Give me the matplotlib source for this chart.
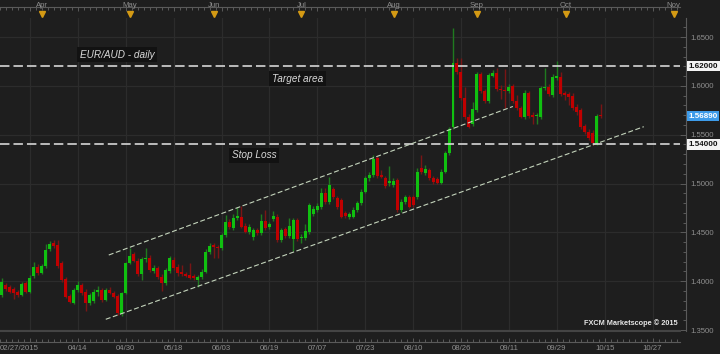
import matplotlib
matplotlib.use("Agg")
import matplotlib.pyplot as plt
from matplotlib.patches import Rectangle
from matplotlib.lines import Line2D
import numpy as np

plt.rcParams['lines.scale_dashes'] = False
plt.rcParams['font.family'] = ['Liberation Sans', 'DejaVu Sans']

# ---------------- data (EUR/AUD daily) ----------------
opens = [1.3858, 1.3961, 1.3943, 1.3917, 1.3892, 1.3858, 1.3978, 1.3892, 1.4053, 1.4148,
         1.4087, 1.4155, 1.4326, 1.4388, 1.4370, 1.4183, 1.4019, 1.3848, 1.3780, 1.3910,
         1.3961, 1.3892, 1.3780, 1.3797, 1.3886, 1.3910, 1.3807, 1.3910, 1.3876, 1.3848,
         1.3660, 1.3876, 1.4189, 1.4275, 1.4210, 1.4070, 1.4224, 1.4240, 1.4107, 1.4135,
         1.4046, 1.3978, 1.4104, 1.4217, 1.4148, 1.4091, 1.4070, 1.4063, 1.4056, 1.4009,
         1.4043, 1.4097, 1.4295, 1.4370, 1.4353, 1.4336, 1.4473, 1.4609, 1.4541, 1.4644,
         1.4660, 1.4568, 1.4507, 1.4455, 1.4524, 1.4490, 1.4616, 1.4555, 1.4636, 1.4660,
         1.4422, 1.4534, 1.4466, 1.4432, 1.4626, 1.4439, 1.4445, 1.4507, 1.4688, 1.4729,
         1.4763, 1.4906, 1.4808, 1.4941, 1.4848, 1.4831, 1.4695, 1.4660, 1.4660, 1.4729,
         1.4797, 1.4916, 1.5053, 1.5087, 1.5258, 1.5087, 1.5053, 1.5002, 1.4985, 1.5036,
         1.4729, 1.4814, 1.4859, 1.4859, 1.4859, 1.5156, 1.5111, 1.5138, 1.5053, 1.5043,
         1.5008, 1.5121, 1.5309, 1.5582, 1.6231, 1.6145, 1.5879, 1.5684, 1.5609, 1.5753,
         1.6121, 1.5947, 1.5845, 1.6104, 1.6135, 1.5968, 1.5957, 1.5947, 1.5998, 1.5845,
         1.5770, 1.5684, 1.5924, 1.5702, 1.5691, 1.5684, 1.5975, 1.5991, 1.5906, 1.6083,
         1.6094, 1.5924, 1.5917, 1.5896, 1.5787, 1.5753, 1.5589, 1.5530, 1.5520, 1.5418,
         1.5696]
highs = [1.4032, 1.3981, 1.3961, 1.3940, 1.3910, 1.3991, 1.4002, 1.4063, 1.4196, 1.4176,
         1.4176, 1.4381, 1.4411, 1.4422, 1.4422, 1.4206, 1.4043, 1.3868, 1.3930, 1.4002,
         1.3981, 1.3920, 1.3879, 1.3920, 1.3950, 1.3930, 1.3930, 1.3940, 1.3899, 1.3868,
         1.3890, 1.4200, 1.4343, 1.4299, 1.4237, 1.4247, 1.4343, 1.4268, 1.4166, 1.4155,
         1.4073, 1.4135, 1.4258, 1.4247, 1.4176, 1.4166, 1.4094, 1.4183, 1.4073, 1.4063,
         1.4125, 1.4329, 1.4391, 1.4391, 1.4370, 1.4493, 1.4678, 1.4636, 1.4685, 1.4762,
         1.4773, 1.4595, 1.4582, 1.4544, 1.4544, 1.4685, 1.4726, 1.4606, 1.4718, 1.4688,
         1.4544, 1.4555, 1.4644, 1.4647, 1.4647, 1.4483, 1.4582, 1.4800, 1.4770, 1.4800,
         1.4951, 1.4957, 1.5070, 1.4964, 1.4872, 1.4851, 1.4718, 1.4708, 1.4760, 1.4821,
         1.4944, 1.5077, 1.5118, 1.5292, 1.5282, 1.5138, 1.5077, 1.5179, 1.5056, 1.5056,
         1.4841, 1.4882, 1.4882, 1.4882, 1.5159, 1.5292, 1.5190, 1.5159, 1.5077, 1.5067,
         1.5149, 1.5333, 1.5579, 1.6589, 1.6282, 1.6282, 1.5991, 1.5712, 1.5831, 1.6142,
         1.6142, 1.5968, 1.6131, 1.6162, 1.6183, 1.6009, 1.6173, 1.6019, 1.6019, 1.5906,
         1.5794, 1.5958, 1.5947, 1.5732, 1.5722, 1.5998, 1.6186, 1.6019, 1.6121, 1.6254,
         1.6145, 1.5947, 1.5937, 1.5927, 1.5814, 1.5773, 1.5609, 1.5558, 1.5548, 1.5712,
         1.5814]
lows = [1.3838, 1.3899, 1.3879, 1.3814, 1.3838, 1.3848, 1.3879, 1.3879, 1.4032, 1.4063,
        1.4073, 1.4135, 1.4309, 1.4340, 1.4135, 1.3991, 1.3827, 1.3776, 1.3766, 1.3889,
        1.3858, 1.3697, 1.3756, 1.3776, 1.3848, 1.3787, 1.3797, 1.3868, 1.3827, 1.3654,
        1.3643, 1.3866, 1.4180, 1.4196, 1.4053, 1.4012, 1.4196, 1.4094, 1.4084, 1.4022,
        1.3902, 1.3961, 1.4084, 1.4114, 1.4053, 1.4053, 1.4043, 1.4022, 1.4012, 1.3943,
        1.4022, 1.4084, 1.4278, 1.4234, 1.4234, 1.4319, 1.4452, 1.4534, 1.4524, 1.4626,
        1.4544, 1.4493, 1.4480, 1.4421, 1.4473, 1.4473, 1.4524, 1.4534, 1.4616, 1.4401,
        1.4398, 1.4442, 1.4442, 1.4309, 1.4411, 1.4391, 1.4421, 1.4483, 1.4667, 1.4708,
        1.4739, 1.4790, 1.4790, 1.4841, 1.4739, 1.4647, 1.4647, 1.4636, 1.4647, 1.4708,
        1.4780, 1.4903, 1.5026, 1.5067, 1.5056, 1.5056, 1.4954, 1.4975, 1.4964, 1.4708,
        1.4708, 1.4790, 1.4749, 1.4759, 1.4841, 1.5097, 1.5087, 1.5036, 1.4995, 1.4995,
        1.4995, 1.5108, 1.5292, 1.5558, 1.6121, 1.5855, 1.5660, 1.5565, 1.5589, 1.5732,
        1.5927, 1.5824, 1.5824, 1.6090, 1.5947, 1.5865, 1.5770, 1.5927, 1.5824, 1.5753,
        1.5671, 1.5660, 1.5671, 1.5606, 1.5606, 1.5660, 1.5958, 1.5896, 1.5886, 1.6060,
        1.5896, 1.5855, 1.5804, 1.5753, 1.5702, 1.5558, 1.5507, 1.5446, 1.5394, 1.5394,
        1.5671]
closes = [1.3995, 1.3917, 1.3892, 1.3876, 1.3858, 1.3971, 1.3892, 1.4036, 1.4148, 1.4087,
          1.4155, 1.4319, 1.4381, 1.4363, 1.4155, 1.4012, 1.3841, 1.3790, 1.3910, 1.3961,
          1.3882, 1.3780, 1.3858, 1.3892, 1.3910, 1.3807, 1.3910, 1.3882, 1.3841, 1.3671,
          1.3876, 1.4189, 1.4261, 1.4210, 1.4070, 1.4224, 1.4240, 1.4114, 1.4132, 1.4046,
          1.3978, 1.4114, 1.4234, 1.4138, 1.4080, 1.4070, 1.4056, 1.4036, 1.4029, 1.4046,
          1.4097, 1.4302, 1.4363, 1.4353, 1.4336, 1.4473, 1.4609, 1.4558, 1.4650, 1.4667,
          1.4558, 1.4507, 1.4558, 1.4524, 1.4490, 1.4616, 1.4548, 1.4582, 1.4667, 1.4422,
          1.4524, 1.4466, 1.4568, 1.4626, 1.4432, 1.4455, 1.4514, 1.4780, 1.4739, 1.4773,
          1.4906, 1.4808, 1.4985, 1.4859, 1.4756, 1.4660, 1.4667, 1.4688, 1.4729, 1.4797,
          1.4916, 1.5053, 1.5087, 1.5248, 1.5077, 1.5070, 1.4974, 1.5029, 1.5029, 1.4729,
          1.4814, 1.4859, 1.4763, 1.4780, 1.5121, 1.5121, 1.5145, 1.5053, 1.5019, 1.5008,
          1.5121, 1.5309, 1.5555, 1.6231, 1.6145, 1.5879, 1.5684, 1.5582, 1.5763, 1.6121,
          1.5947, 1.5845, 1.6111, 1.6135, 1.5968, 1.5957, 1.5947, 1.5991, 1.5845, 1.5770,
          1.5684, 1.5924, 1.5694, 1.5684, 1.5702, 1.5975, 1.5991, 1.5917, 1.6094, 1.6104,
          1.5917, 1.5906, 1.5889, 1.5776, 1.5729, 1.5582, 1.5524, 1.5463, 1.5412, 1.5691,
          1.5689]

# horizontal levels
target_level = 1.62
stop_level = 1.54
last_price = 1.5689

# trend channel end points (bar index, price)
upper_channel_x = [26.75, 128.0]
upper_channel_y = [1.4268, 1.5789]
lower_channel_x = [26.0, 160.8]
lower_channel_y = [1.3610, 1.5582]

# axis labels
date_tick_pos = [7, 19, 31, 43, 55, 67, 79, 91, 103, 115, 127, 139, 151, 163]
date_tick_labels = ['', '04/14', '04/30', '05/18', '06/03', '06/19', '07/07', '07/23',
                    '08/10', '08/26', '09/11', '09/29', '10/15', '10/27']
first_date_label = '02/27/2015'
month_pos = [10, 32, 53, 75, 98.25, 119, 141.25, 168.25]
month_labels = ['Apr', 'May', 'Jun', 'Jul', 'Aug', 'Sep', 'Oct', 'Nov']
price_ticks = [1.35, 1.40, 1.45, 1.50, 1.55, 1.60, 1.65]

# ---------------- styling ----------------
BG = '#1e1e1e'
GRID = '#2c2c2c'
AXC = '#5a5a5a'
TXT = '#8e8e8e'
UP_BODY = '#10c010'
UP_WICK = '#1f7a1f'
DN_BODY = '#c00000'
DN_WICK = '#7a1515'

W, H = 720, 354
fig = plt.figure(figsize=(W / 100, H / 100), dpi=100, facecolor=BG)
left, right, top, bottom = 0, 680, 18, 331
ax = fig.add_axes([left / W, 1 - bottom / H, (right - left) / W, (bottom - top) / H])
ax.set_facecolor(BG)
ax.set_xlim(-0.125, 169.875)
ax.set_ylim(1.3490, 1.6695)

# grid
for p in price_ticks:
    ax.axhline(p, color=GRID, lw=0.9, zorder=0)
for xp in date_tick_pos:
    ax.axvline(xp, color=GRID, lw=0.9, zorder=0)

# candles
bw = 0.75
for i, (o, h, l, c) in enumerate(zip(opens, highs, lows, closes)):
    up = c >= o
    ax.plot([i, i], [l, h], color=UP_WICK if up else DN_WICK, lw=1.0, zorder=2,
            solid_capstyle='butt')
    b0 = min(o, c)
    bh = max(abs(c - o), 0.0011)
    ax.add_patch(Rectangle((i - bw / 2, b0), bw, bh, facecolor=UP_BODY if up else DN_BODY,
                           edgecolor='none', zorder=3))

# horizontal dashed levels
for lev in (target_level, stop_level):
    ax.axhline(lev, color='#d6d6d6', lw=1.2, dashes=(6.8, 2.9), zorder=4)

# channel
for xs, ys in ((upper_channel_x, upper_channel_y), (lower_channel_x, lower_channel_y)):
    ax.plot(xs, ys, color='#c4d4bc', lw=0.8, dashes=(3.6, 1.8), zorder=4)

# annotations
box = dict(boxstyle='square,pad=0.25', facecolor='#121212', edgecolor='none')
ax.text(19.5, 1.6321, 'EUR/AUD - daily', color='#d8d8d8', fontsize=7.2, style='italic',
        ha='left', va='center', bbox=box, zorder=6)
ax.text(67.6, 1.6075, 'Target area', color='#d8d8d8', fontsize=7.2, style='italic',
        ha='left', va='center', bbox=box, zorder=6)
ax.text(57.6, 1.5292, 'Stop Loss', color='#d8d8d8', fontsize=7.2, style='italic',
        ha='left', va='center', bbox=box, zorder=6)
ax.text(0.996, 0.012, 'FXCM Marketscope \u00a9 2015', transform=ax.transAxes, color='#e6e6e6',
        fontsize=5.3, fontweight='bold', ha='right', va='bottom', zorder=6)

# axes decoration
ax.spines['left'].set_visible(False)
ax.spines['right'].set_position(('outward', 4))
ax.spines['right'].set_color(AXC)
ax.spines['bottom'].set_position(('outward', 8))
ax.spines['bottom'].set_color(AXC)
ax.spines['top'].set_position(('outward', 8))
ax.spines['top'].set_color(AXC)
ax.add_line(Line2D([0, 1], [0, 0], transform=ax.transAxes, color='#444444', lw=1.5,
                   clip_on=False))

ax.yaxis.tick_right()
ax.set_yticks(price_ticks)
ax.set_yticklabels(['%.4f' % p for p in price_ticks])
ax.set_yticks(np.arange(1.35, 1.67, 0.01), minor=True)
ax.tick_params(axis='y', which='both', direction='in', colors=AXC, labelcolor=TXT,
               labelsize=5.6, pad=3.5, length=4, width=0.7)
ax.tick_params(axis='y', which='minor', length=2)

ax.set_xticks(date_tick_pos)
ax.set_xticklabels(date_tick_labels)
ax.set_xticks(np.arange(-0.5, 170, 1.5), minor=True)
ax.tick_params(axis='x', which='both', direction='in', colors=AXC, labelcolor=TXT,
               labelsize=5.6, pad=2.2, length=3, width=0.7, top=True, labeltop=False)
ax.tick_params(axis='x', which='minor', length=2)
ax.text(0.0, -17.0 / 313, first_date_label, transform=ax.transAxes, color=TXT, fontsize=5.6,
        ha='left', va='center', clip_on=False)

# month markers on top
for mp, ml in zip(month_pos, month_labels):
    ax.plot([mp], [1 + 4.5 / 313], transform=ax.get_xaxis_transform(), marker='v',
            color='#d49a14', markersize=4.5, clip_on=False, zorder=7)
    ax.text(mp, 1 + 12.5 / 313, ml, transform=ax.get_xaxis_transform(), color=TXT,
            fontsize=5.6, ha='center', va='center', clip_on=False)

# price boxes
for lev, fc, tc in ((target_level, '#f4f4f4', '#111111'), (last_price, '#3d9be9', '#ffffff'),
                    (stop_level, '#f4f4f4', '#111111')):
    ax.text(1 + 8.5 / 680, lev, '%.5f' % lev, transform=ax.get_yaxis_transform(), color=tc,
            fontsize=5.8, fontweight='bold', ha='left', va='center', clip_on=False, zorder=8,
            bbox=dict(boxstyle='square,pad=0.2', facecolor=fc, edgecolor='none'))

fig.savefig('out.png', dpi=100, facecolor=BG)
